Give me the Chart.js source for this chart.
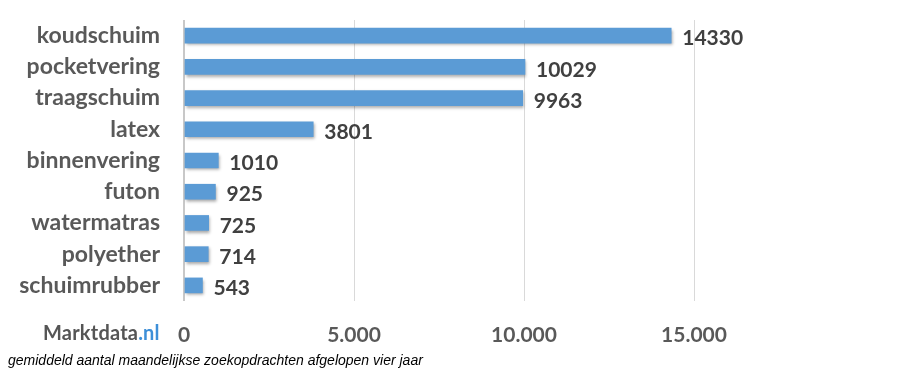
<!DOCTYPE html>
<html>
<head>
<meta charset="utf-8">
<script src="https://cdn.jsdelivr.net/npm/chart.js@4"></script>
<style>
  html, body { margin: 0; padding: 0; background: #fff; }
  #wrap { position: relative; width: 908px; height: 391px; }
  #logo { position: absolute; left: 43px; top: 320px; font: bold 20px Lato, sans-serif; color: #555; letter-spacing: 0.2px; }
  #logo span { color: #3d8fd8; }
  #caption { position: absolute; left: 8px; top: 352px; font: italic 14px "Liberation Sans", Arial, sans-serif; color: #000; }
</style>
</head>
<body>
<div id="wrap">
  <canvas id="chart" width="908" height="391"></canvas>
  <div id="logo">Marktdata<span>.nl</span></div>
  <div id="caption">gemiddeld aantal maandelijkse zoekopdrachten afgelopen vier jaar</div>
</div>
<script>
// categories and average monthly searches
const categories = ["koudschuim", "pocketvering", "traagschuim", "latex", "binnenvering", "futon", "watermatras", "polyether", "schuimrubber"];
const searches = [14330, 10029, 9963, 3801, 1010, 925, 725, 714, 543];
const xTicks = [0, 5000, 10000, 15000];

const fmt = v => String(v).replace(/\B(?=(\d{3})+(?!\d))/g, ".");

// value labels at the end of each bar
const valueLabels = {
  id: "valueLabels",
  afterDatasetsDraw(chart) {
    const ctx = chart.ctx;
    const meta = chart.getDatasetMeta(0);
    ctx.save();
    ctx.font = "bold 21px Lato, sans-serif";
    ctx.fillStyle = "#404040";
    ctx.textBaseline = "middle";
    meta.data.forEach((bar, i) => {
      ctx.fillText(searches[i], bar.x + 11, bar.y + 3);
    });
    ctx.restore();
  }
};

// soft shadow under the bars
const barShadow = {
  id: "barShadow",
  beforeDatasetsDraw(chart) {
    const ctx = chart.ctx;
    ctx.save();
    ctx.shadowColor = "rgba(0,0,0,0.35)";
    ctx.shadowBlur = 3;
    ctx.shadowOffsetX = 1;
    ctx.shadowOffsetY = 2;
  },
  afterDatasetsDraw(chart) {
    chart.ctx.restore();
  }
};

const ctx = document.getElementById("chart").getContext("2d");

new Chart(ctx, {
  type: "bar",
  data: {
    labels: categories,
    datasets: [{
      data: searches,
      backgroundColor: (c) => {
        const el = c.element;
        if (!el || el.y === undefined) return "#5b9bd5";
        const g = c.chart.ctx.createLinearGradient(0, el.y - 8, 0, el.y + 8);
        g.addColorStop(0, "#72aae0");
        g.addColorStop(0.5, "#5b9bd8");
        g.addColorStop(1, "#3f85cb");
        return g;
      },
      barThickness: 15,
      borderWidth: 0
    }]
  },
  options: {
    indexAxis: "y",
    responsive: false,
    animation: false,
    layout: { padding: { left: 0, right: 214, top: 20, bottom: 0 } },
    plugins: {
      legend: { display: false },
      tooltip: { enabled: false }
    },
    scales: {
      x: {
        min: 0,
        max: 15000,
        afterBuildTicks: s => { s.ticks = xTicks.map(v => ({ value: v })); },
        afterFit: s => { s.height = 90; },
        ticks: {
          padding: 22,
          color: "#595959",
          font: { family: "Lato", weight: "bold", size: 21 },
          callback: v => fmt(v)
        },
        grid: {
          color: (c) => c.tick && c.tick.value === 0 ? "#c8c8c8" : "#d9d9d9",
          lineWidth: (c) => c.tick && c.tick.value === 0 ? 2 : 1,
          drawTicks: false
        },
        border: { display: false }
      },
      y: {
        afterFit: s => { s.width = 184; s.paddingTop = 0; s.paddingBottom = 0; },
        ticks: {
          autoSkip: false,
          padding: 24,
          color: "#595959",
          font: { family: "Lato", weight: "bold", size: 23 }
        },
        grid: { display: false, drawTicks: false },
        border: { display: false }
      }
    }
  },
  plugins: [barShadow, valueLabels]
});
</script>
</body>
</html>
